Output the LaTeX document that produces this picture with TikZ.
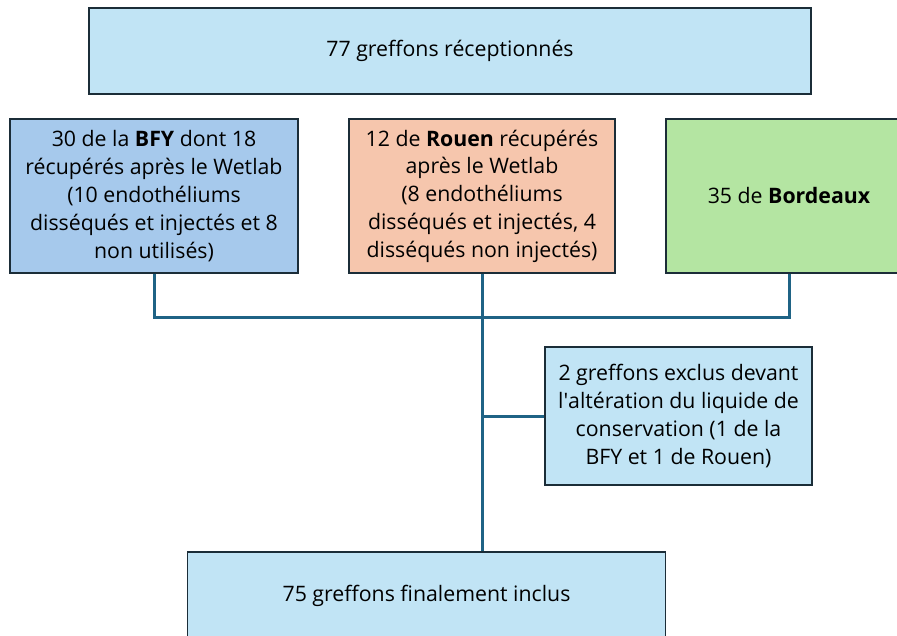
\documentclass[tikz,border=0pt]{standalone}
\usepackage{fontspec}
\setmainfont{Open Sans}
\definecolor{link}{HTML}{1F6385}
\definecolor{pale blue}{HTML}{C1E4F5}
\definecolor{mid blue}{HTML}{A6C9EC}
\definecolor{salmon}{HTML}{F6C6AD}
\definecolor{light green}{HTML}{B4E5A2}
\definecolor{box edge}{HTML}{1B2D38}
\tikzset{
  stepbox/.style={draw=box edge, line width=1.3pt, align=center, inner sep=4pt,
    font=\fontsize{21.3}{27.8}\selectfont},
  link/.style={draw=link, line width=3pt}
  }
\begin{document}
\begin{tikzpicture}[x=1pt,y=-1pt]

    % the page
    \clip (0,0) rectangle (897,635);
    \fill[white] (0,0) rectangle (897,635);

    % The received grafts
    \node[stepbox, fill=pale blue, minimum width=722pt, minimum height=86pt] (recus) at (450,51) {77 greffons réceptionnés};

    % where they come from
    \node[stepbox, fill=mid blue, minimum width=288pt, minimum height=154pt] (bfy) at (154,196)
      {30 de la \textbf{BFY} dont 18\\récupérés après le Wetlab\\(10 endothéliums\\disséqués et injectés et 8\\non utilisés)};
    \node[stepbox, fill=salmon, minimum width=266pt, minimum height=154pt] (rouen) at (482,196)
      {12 de \textbf{Rouen} récupérés\\après le Wetlab\\(8 endothéliums\\disséqués et injectés, 4\\disséqués non injectés)};
    \node[stepbox, fill=light green, minimum width=246pt, minimum height=154pt] (bdx) at (789,196)
      {35 de \textbf{Bordeaux}};

    % the excluded ones
    \node[stepbox, fill=pale blue, minimum width=267pt, minimum height=138pt] (exclus) at (678.5,416)
      {2 greffons exclus devant\\l\textquotesingle altération du liquide de\\conservation (1 de la\\BFY et 1 de Rouen)};

    % The final count
    \node[stepbox, fill=pale blue, minimum width=478pt, minimum height=88pt] (inclus) at (426.5,596)
      {75 greffons finalement inclus};

    \coordinate (joint) at (482,317);

    % The connections between them
    \path[link] (bfy.south) |- (joint) -| (bdx.south);
    \path[link] (rouen.south) -- (joint) -- (rouen.south |- inclus.north);
    \path[link] (exclus.west) -- (exclus.west -| rouen.south);
\end{tikzpicture}
\end{document}
